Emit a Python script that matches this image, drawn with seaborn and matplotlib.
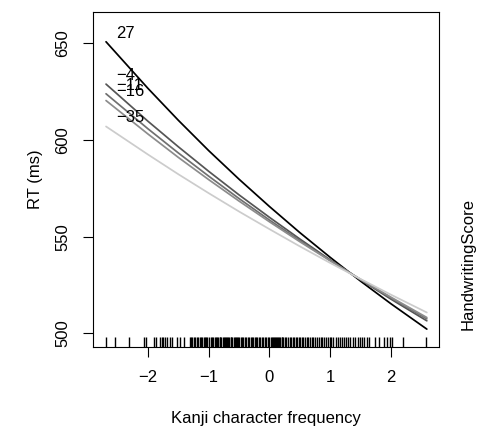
import numpy as np
import pandas as pd
import matplotlib
matplotlib.use('Agg')
import matplotlib.pyplot as plt
import seaborn as sns

freq = [-2.69, -2.0, -1.5, -1.0, -0.5, 0.0, 0.5, 1.0, 1.5, 2.0, 2.59]

# predicted RT (ms) per handwriting score
scores = [27, -4, -11, -16, -35]
rt_27 = [650.8, 626.7, 610.2, 594.5, 579.7, 565.6, 552.1, 539.3, 527.0, 515.3, 502.2]
rt_m4 = [628.9, 609.7, 596.5, 583.8, 571.6, 560.0, 548.8, 538.0, 527.7, 517.7, 506.5]
rt_m11 = [623.9, 605.8, 593.3, 581.3, 569.7, 558.6, 548.0, 537.7, 527.8, 518.3, 507.5]
rt_m16 = [620.4, 603.1, 591.0, 579.5, 568.4, 557.7, 547.4, 537.5, 527.9, 518.7, 508.2]
rt_m35 = [607.0, 592.5, 582.3, 572.5, 563.0, 553.9, 545.0, 536.4, 528.1, 520.0, 510.8]

# observed frequencies shown as a rug
rug_x = [-2.69, -2.54, -2.31, -2.06, -2.03, -1.90, -1.86, -1.80, -1.77, -1.75,
         -1.72, -1.68, -1.64, -1.61, -1.53, -1.47, -1.40,
         -1.31, -1.29, -1.27, -1.25, -1.22, -1.20, -1.18, -1.15, -1.13, -1.11,
         -1.08, -1.06, -1.04, -1.02, -0.99, -0.97, -0.95, -0.93, -0.90, -0.88,
         -0.86, -0.84, -0.82, -0.81, -0.79, -0.77, -0.75, -0.73, -0.72, -0.70,
         -0.68, -0.66, -0.64, -0.63, -0.61, -0.59, -0.57, -0.55, -0.54, -0.52,
         -0.50, -0.47, -0.45, -0.43, -0.41, -0.38, -0.36, -0.34, -0.31, -0.29,
         -0.27, -0.24, -0.22, -0.20, -0.17, -0.15, -0.12, -0.10, -0.08, -0.05,
         -0.03, -0.01, 0.02, 0.04, 0.06, 0.07, 0.09, 0.11, 0.13, 0.14, 0.16,
         0.18, 0.20, 0.21, 0.23, 0.26, 0.28, 0.30, 0.33, 0.35, 0.38, 0.41,
         0.43, 0.46, 0.48, 0.51, 0.53, 0.56, 0.58, 0.61, 0.64, 0.67, 0.70,
         0.72, 0.75, 0.78, 0.81, 0.84, 0.86, 0.90, 0.93, 0.96, 0.99, 1.02,
         1.05, 1.09, 1.12, 1.16, 1.19, 1.22, 1.26, 1.29, 1.33, 1.37, 1.41,
         1.45, 1.49, 1.52, 1.56, 1.60, 1.64,
         1.74, 1.80, 1.88, 1.93, 1.98, 2.01, 2.20, 2.58]

curves = [rt_27, rt_m4, rt_m11, rt_m16, rt_m35]
colors = ['#000000', '#555555', '#707070', '#8c8c8c', '#cccccc']

rows = []
for s, vals in zip(scores, curves):
    for x, y in zip(freq, vals):
        rows.append({'freq': x, 'RT': y, 'score': str(s)})
df = pd.DataFrame(rows)

sns.set_theme(style='ticks', rc={'text.color': 'black', 'axes.labelcolor': 'black',
                                 'xtick.color': 'black', 'ytick.color': 'black',
                                 'axes.edgecolor': 'black'})
plt.rcParams['font.family'] = ['Liberation Sans', 'DejaVu Sans']
plt.rcParams['axes.unicode_minus'] = True

fig = plt.figure(figsize=(4.8, 4.3), dpi=100)
ax = fig.add_axes([0.1938, 0.1937, 0.7215, 0.7784])

sns.lineplot(data=df, x='freq', y='RT', hue='score', palette=colors,
             hue_order=[str(s) for s in scores], lw=1.25, legend=False, ax=ax)
sns.rugplot(x=rug_x, height=0.03, color='black', lw=0.75, ax=ax)

# curve labels at the left end
for s, vals in zip(scores, curves):
    lab = str(s).replace('-', '\u2212')
    ax.text(-2.53, vals[0] + 4.5, lab, ha='left', va='center', fontsize=12, color='black')

ax.set_xlim(-2.904, 2.796)
ax.set_ylim(493.1, 666.2)
ax.set_xticks([-2, -1, 0, 1, 2])
ax.set_yticks([500, 550, 600, 650])
ax.tick_params(axis='both', labelsize=12, length=7.5, width=0.8, color='black',
               labelcolor='black', pad=9)
ax.tick_params(axis='y', labelrotation=90)
for lab in ax.get_yticklabels():
    lab.set_va('center')
for sp in ax.spines.values():
    sp.set_visible(True)
    sp.set_linewidth(0.8)
    sp.set_color('black')

ax.set_xlabel('Kanji character frequency', fontsize=12)
ax.set_ylabel('RT (ms)', fontsize=12)
ax.xaxis.set_label_coords(0.5, -0.213)
ax.xaxis.label.set_va('center')
ax.yaxis.set_label_coords(-0.165, 0.5)
ax.yaxis.label.set_va('center')

fig.text(468 / 480, 1 - 264 / 430, 'HandwritingScore', rotation=90,
         ha='center', va='center', fontsize=12)

fig.savefig('out.png', dpi=100)
